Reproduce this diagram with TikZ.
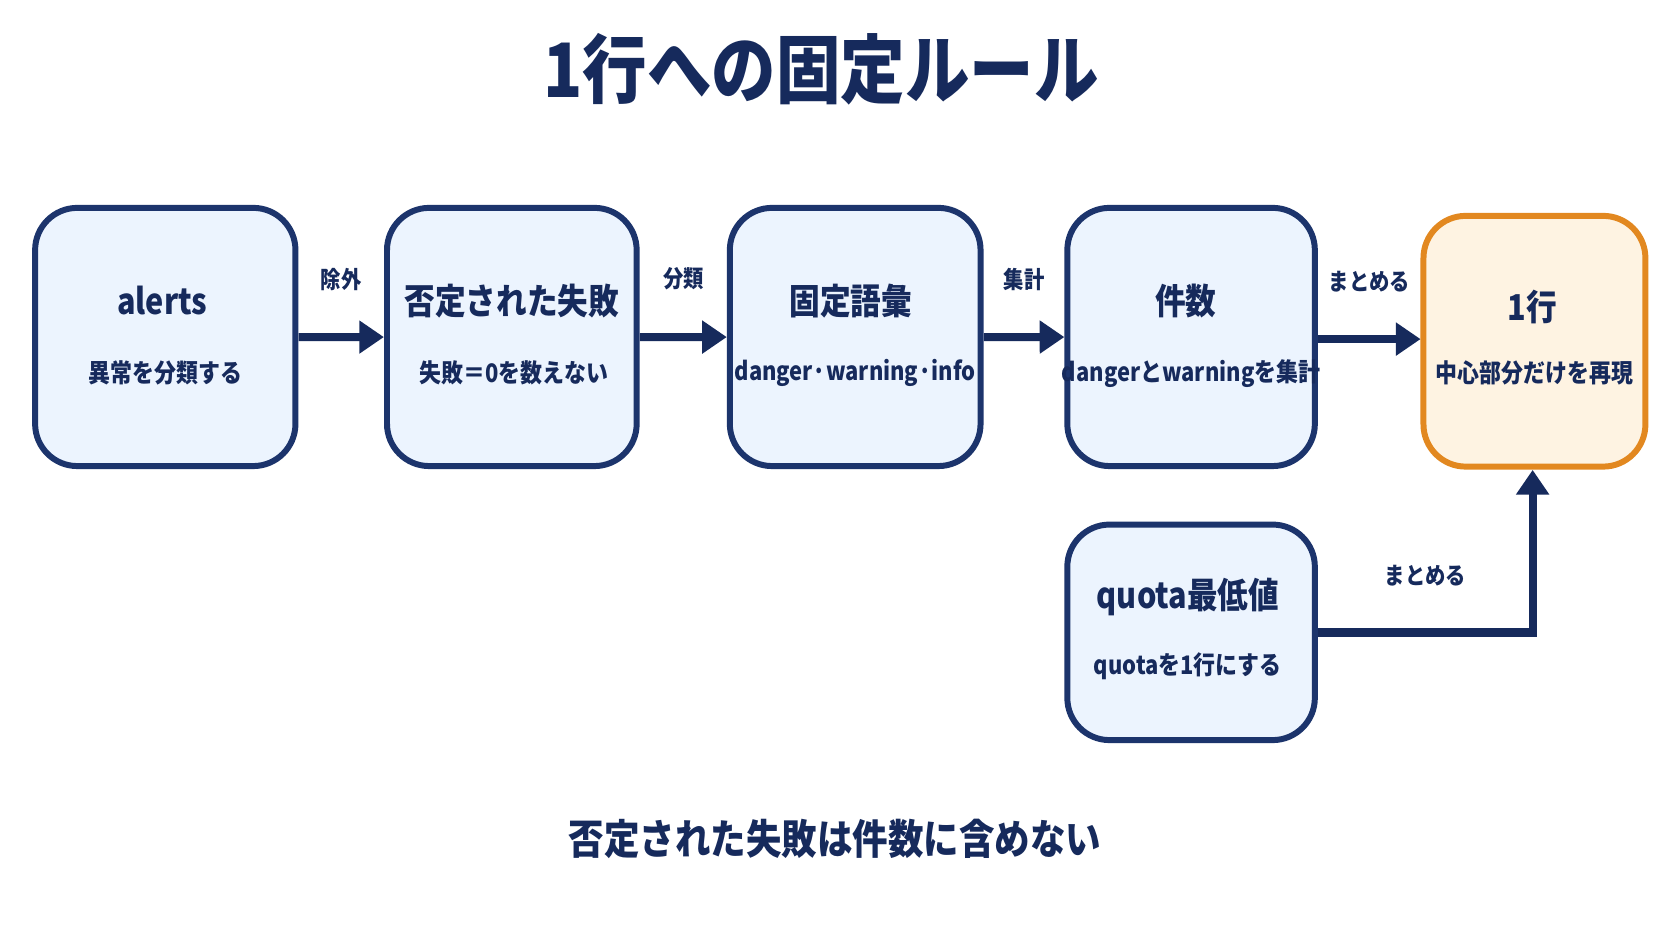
\documentclass[tikz,border=0pt]{standalone}
\usepackage{fontspec}
\setmainfont{Noto Sans CJK JP}
\usetikzlibrary{positioning,arrows.meta}
\definecolor{navy}{RGB}{22,42,92}
\definecolor{boxline}{RGB}{28,52,108}
\definecolor{boxfill}{RGB}{236,244,254}
\definecolor{orangeline}{RGB}{226,136,32}
\definecolor{orangefill}{RGB}{254,243,226}
\newcommand{\narrow}[1]{\scalebox{0.86}[1]{#1}}
\tikzset{
  stage/.style={draw=boxline, line width=1.7pt, fill=boxfill, rounded corners=12pt, minimum height=2.42cm},
  result/.style={draw=orangeline, line width=1.7pt, fill=orangefill, rounded corners=12pt, minimum width=2.08cm, minimum height=2.35cm},
  headtext/.style={text=navy, font=\fontsize{9.5}{11}\selectfont\bfseries},
  subtext/.style={text=navy, font=\fontsize{6.8}{8}\selectfont\bfseries},
  flow/.style={draw=navy, line width=2.3pt, -{Triangle[length=7pt,width=9pt]}},
  steplabel/.style={text=navy, font=\fontsize{6.3}{8}\selectfont\bfseries}
}
\begin{document}
\begin{tikzpicture}[x=0.01cm, y=-0.01cm, scale=1.0663, every node/.append style={transform shape}]
% Canvas
\useasboundingbox (0,0) rectangle (1568,882);
\fill[white] (0,0) rectangle (1568,882);

% Title
\node[text=navy, font=\fontsize{20}{24}\selectfont\bfseries] (title) at (770,65) {\narrow{1行への固定ルール}};

% Pipeline boxes
\node[stage, minimum width=2.44cm] (alerts) at (155,316) {};
\node[stage, minimum width=2.34cm] (negated) at (480,316) {};
\node[stage, minimum width=2.35cm] (vocab) at (802,316) {};
\node[stage, minimum width=2.32cm] (count) at (1117,316) {};
\node[result] (oneline) at (1439,320) {};
\node[stage, minimum width=2.32cm, minimum height=2.02cm] (quota) at (1117,593) {};

% Box texts
\node[headtext] (alertsA) at (152,282) {\narrow{alerts}};
\node[subtext] (alertsB) at (155,350) {\narrow{異常を分類する}};
\node[headtext] (negatedA) at (480,282) {\narrow{否定された失敗}};
\node[subtext] (negatedB) at (482,350) {\narrow{失敗＝0を数えない}};
\node[headtext] (vocabA) at (798,282) {\narrow{固定語彙}};
\node[subtext] (vocabB) at (802,350) {\narrow{danger·warning·info}};
\node[headtext] (countA) at (1112,282) {\narrow{件数}};
\node[subtext] (countB) at (1117,350) {\narrow{dangerとwarningを集計}};
\node[headtext] (onelineA) at (1437,288) {\narrow{1行}};
\node[subtext] (onelineB) at (1439,350) {\narrow{中心部分だけを再現}};
\node[headtext] (quotaA) at (1114,560) {\narrow{quota最低値}};
\node[subtext] (quotaB) at (1114,625) {\narrow{quotaを1行にする}};

% Connectors
\draw[flow] (alerts) -- node[steplabel, above=8pt] {\narrow{除外}} (negated);
\draw[flow] (negated) -- node[steplabel, above=8pt] {\narrow{分類}} (vocab);
\draw[flow] (vocab) -- node[steplabel, above=8pt] {\narrow{集計}} (count);
\draw[flow] (count.east |- 0,318) -- node[steplabel, above=8pt] {\narrow{まとめる}} (oneline.west |- 0,318);
\coordinate (bend) at (1437,593);
\draw[flow] (quota.east) -- node[steplabel, above=8pt] {\narrow{まとめる}} (bend) -- (oneline.south -| bend);

% Footer
\node[text=navy, font=\fontsize{11}{13}\selectfont\bfseries] (footer) at (783,787) {\narrow{否定された失敗は件数に含めない}};
\end{tikzpicture}
\end{document}
